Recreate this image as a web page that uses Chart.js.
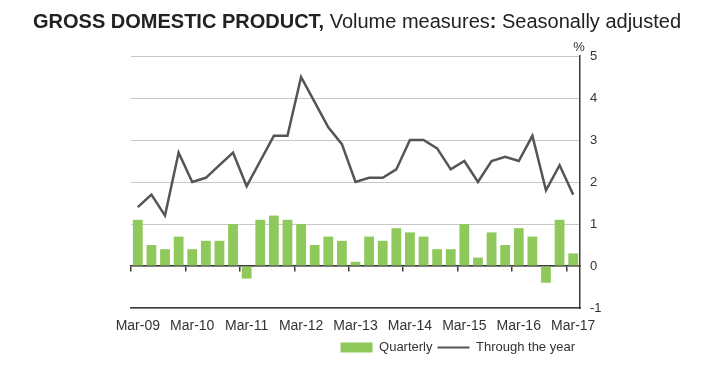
<!DOCTYPE html>
<html>
<head>
<meta charset="utf-8">
<script src="https://cdn.jsdelivr.net/npm/chart.js@4.4.1/dist/chart.umd.min.js"></script>
<style>
  html, body { margin: 0; padding: 0; background: #fff; }
  #wrap { position: relative; width: 722px; height: 366px; }
  #title {
    position: absolute; left: 33px; top: 10px;
    font-family: 'Liberation Sans', Arial, sans-serif;
    font-size: 20px; color: #222; white-space: nowrap;
  }
  #title b { font-weight: bold; }
  canvas { position: absolute; left: 0; top: 0; }
</style>
</head>
<body>
<div id="wrap">
  <canvas id="gdpChart" width="722" height="366"></canvas>
  <div id="title"><b>GROSS DOMESTIC PRODUCT,</b> Volume measures<b>:</b> Seasonally adjusted</div>
</div>
<script>
// Dados do gráfico (trimestres Mar-09 .. Mar-17)
const quarters = [
  'Mar-09', 'Jun-09', 'Sep-09', 'Dec-09',
  'Mar-10', 'Jun-10', 'Sep-10', 'Dec-10',
  'Mar-11', 'Jun-11', 'Sep-11', 'Dec-11',
  'Mar-12', 'Jun-12', 'Sep-12', 'Dec-12',
  'Mar-13', 'Jun-13', 'Sep-13', 'Dec-13',
  'Mar-14', 'Jun-14', 'Sep-14', 'Dec-14',
  'Mar-15', 'Jun-15', 'Sep-15', 'Dec-15',
  'Mar-16', 'Jun-16', 'Sep-16', 'Dec-16',
  'Mar-17'
];
const quarterly = [
  1.1, 0.5, 0.4, 0.7,
  0.4, 0.6, 0.6, 1.0,
  -0.3, 1.1, 1.2, 1.1,
  1.0, 0.5, 0.7, 0.6,
  0.1, 0.7, 0.6, 0.9,
  0.8, 0.7, 0.4, 0.4,
  1.0, 0.2, 0.8, 0.5,
  0.9, 0.7, -0.4, 1.1,
  0.3
];
const throughYear = [
  1.4, 1.7, 1.2, 2.7,
  2.0, 2.1, 2.4, 2.7,
  1.9, 2.5, 3.1, 3.1,
  4.5, 3.9, 3.3, 2.9,
  2.0, 2.1, 2.1, 2.3,
  3.0, 3.0, 2.8, 2.3,
  2.5, 2.0, 2.5, 2.6,
  2.5, 3.1, 1.8, 2.4,
  1.7
];
const yTicks = [-1, 0, 1, 2, 3, 4, 5];

const FONT = "'Liberation Sans', Arial, sans-serif";
const DARK = '#3a3a3a';

// Desenhar o "%" acima do eixo direito
const percentLabel = {
  id: 'percentLabel',
  afterDraw(chart) {
    const y = chart.scales.y;
    const ctx = chart.ctx;
    ctx.save();
    ctx.font = '13px ' + FONT;
    ctx.fillStyle = '#333';
    ctx.textAlign = 'center';
    ctx.textBaseline = 'bottom';
    ctx.fillText('%', y.left - 1, y.top - 2);
    ctx.restore();
  }
};

new Chart(document.getElementById('gdpChart'), {
  type: 'bar',
  data: {
    labels: quarters,
    datasets: [{
      label: 'Quarterly',
      data: quarterly,
      backgroundColor: '#8fc95c',
      categoryPercentage: 1,
      barPercentage: 0.72,
      order: 1,
      pointStyle: 'rect'
    }, {
      type: 'line',
      label: 'Through the year',
      data: throughYear,
      borderColor: '#555555',
      backgroundColor: '#555555',
      borderWidth: 2.5,
      pointRadius: 0,
      tension: 0,
      order: 0,
      pointStyle: 'line'
    }]
  },
  options: {
    responsive: false,
    animation: false,
    devicePixelRatio: 1,
    layout: { padding: { left: 131, top: 56, right: 100, bottom: 2 } },
    plugins: {
      title: { display: false },
      tooltip: { enabled: false },
      legend: {
        position: 'bottom',
        align: 'end',
        fullSize: false,
        labels: {
          usePointStyle: true,
          pointStyleWidth: 32,
          boxHeight: 10,
          padding: 5,
          color: '#333',
          font: { family: FONT, size: 13 },
          sort: (a, b) => a.datasetIndex - b.datasetIndex,
          generateLabels: function(chart) {
            const items = Chart.defaults.plugins.legend.labels.generateLabels(chart);
            items.forEach(it => { if (it.pointStyle === 'line') it.lineWidth = 2; });
            return items;
          }
        }
      }
    },
    scales: {
      x: {
        position: 'bottom',
        grid: { drawOnChartArea: false, drawTicks: false },
        border: { color: DARK, width: 1.5 },
        ticks: {
          autoSkip: false,
          maxRotation: 0,
          padding: 10,
          color: '#333',
          font: { family: FONT, size: 14 },
          callback: function(value, index) {
            const lbl = quarters[index];
            return lbl.startsWith('Mar') ? lbl : '';
          }
        },
        afterFit: function(scale) { scale.height = 28; }
      },
      x2: {
        type: 'category',
        position: { y: 0 },
        grid: {
          drawOnChartArea: false,
          offset: true,
          tickLength: 5,
          lineWidth: 1.5,
          color: ctx => (ctx.index % 4 === 0 && ctx.index < quarters.length) ? DARK : 'rgba(0,0,0,0)'
        },
        border: { color: DARK, width: 1.5 },
        ticks: { display: false, autoSkip: false }
      },
      y: {
        position: 'right',
        min: yTicks[0],
        max: yTicks[yTicks.length - 1],
        grid: { color: '#c8c8c8', lineWidth: 1, drawTicks: false },
        border: { color: DARK, width: 1.5 },
        ticks: {
          stepSize: 1,
          padding: 10,
          color: '#333',
          font: { family: FONT, size: 13 }
        },
        afterFit: function(scale) { scale.width = 42; }
      }
    }
  },
  plugins: [percentLabel]
});
</script>
</body>
</html>
